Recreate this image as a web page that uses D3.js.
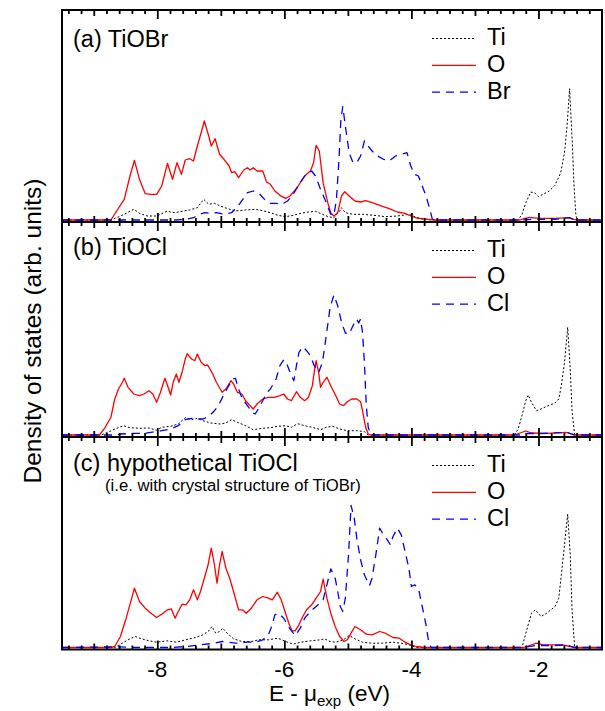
<!DOCTYPE html>
<html lang="en">
<head>
<meta charset="utf-8">
<title>Projected density of states</title>
<script src="https://d3js.org/d3.v7.min.js"></script>
<style>
  body { margin: 0; background: #fff; }
  text { font-family: "Liberation Sans", Arial, sans-serif; fill: #000; }
</style>
</head>
<body>
<div id="chart"></div>
<script>
// energy window (eV) and labelled ticks
var xMin = -9.5, xMax = -1.0;
var xTickLabels = [-8, -6, -4, -2];

var panelTitles = ["(a) TiOBr", "(b) TiOCl", "(c) hypothetical TiOCl"];
var panelNote = "(i.e. with crystal structure of TiOBr)";
var legendLabels = [["Ti", "O", "Br"], ["Ti", "O", "Cl"], ["Ti", "O", "Cl"]];

// [E (eV), DOS (arb. units)]
// (a) TiOBr
var tiA = [[-9.5,0],[-8.73,0],[-8.64,0.23],[-8.49,0.67],[-8.37,1.07],[-8.28,0.67],[-8.16,0.4],[-8.01,0.4],[-7.85,0.87],[-7.73,0.73],[-7.61,0.87],[-7.49,1.0],[-7.37,1.23],[-7.27,2.07],[-7.19,1.57],[-7.10,1.67],[-7.01,1.4],[-6.89,1.13],[-6.77,0.9],[-6.61,1.0],[-6.46,1.07],[-6.34,0.93],[-6.22,0.73],[-6.10,0.47],[-5.98,0.33],[-5.86,0.47],[-5.74,0.67],[-5.62,0.8],[-5.51,0.87],[-5.40,0.57],[-5.31,0.33],[-5.22,0.23],[-5.13,0.9],[-5.10,1.23],[-5.04,0.73],[-4.92,0.57],[-4.77,0.57],[-4.59,0.47],[-4.41,0.33],[-4.22,0.4],[-4.04,0.57],[-3.86,0.13],[-3.68,0],[-2.32,0],[-2.26,0.57],[-2.20,1.73],[-2.12,2.8],[-2.05,2.67],[-2.00,2.33],[-1.93,2.57],[-1.83,2.9],[-1.74,3.47],[-1.65,4.73],[-1.59,6.73],[-1.55,9.4],[-1.51,13.13],[-1.47,8.07],[-1.44,3.4],[-1.41,0.4],[-1.38,0],[-1.0,0]];
var oA = [[-9.5,0],[-8.73,0],[-8.64,0.9],[-8.52,2.07],[-8.43,4.4],[-8.36,5.97],[-8.28,4.07],[-8.19,2.63],[-8.10,2.57],[-8.01,2.57],[-7.93,3.4],[-7.84,5.67],[-7.76,4.07],[-7.69,5.73],[-7.62,4.57],[-7.56,6.0],[-7.49,6.13],[-7.43,5.9],[-7.37,7.4],[-7.31,8.73],[-7.26,9.9],[-7.19,8.4],[-7.15,7.4],[-7.09,8.13],[-7.02,6.57],[-6.95,6.07],[-6.87,5.4],[-6.83,4.73],[-6.78,4.83],[-6.72,4.23],[-6.64,5.0],[-6.58,5.23],[-6.54,5.0],[-6.49,5.23],[-6.43,4.9],[-6.34,4.9],[-6.28,3.8],[-6.22,3.57],[-6.15,2.9],[-6.07,2.47],[-5.98,2.17],[-5.91,2.4],[-5.80,3.23],[-5.68,4.4],[-5.59,4.9],[-5.54,5.73],[-5.50,7.47],[-5.45,6.9],[-5.39,3.73],[-5.31,1.57],[-5.27,0.73],[-5.22,0.4],[-5.16,0.73],[-5.10,2.4],[-5.05,2.83],[-4.98,2.4],[-4.89,1.9],[-4.80,1.8],[-4.72,1.93],[-4.62,1.73],[-4.50,1.47],[-4.35,1.13],[-4.22,0.8],[-4.10,0.67],[-4.01,0.4],[-3.92,0.2],[-3.74,0.07],[-3.62,0],[-2.29,0],[-2.23,0.13],[-2.14,0.27],[-1.99,0.17],[-1.74,0.17],[-1.53,0.23],[-1.44,0.07],[-1.38,0],[-1.0,0]];
var brA = [[-9.5,0],[-7.73,0],[-7.55,0.07],[-7.43,0.23],[-7.34,0.57],[-7.25,0.73],[-7.16,0.67],[-7.07,0.73],[-6.95,0.57],[-6.83,0.73],[-6.71,1.57],[-6.58,2.73],[-6.49,2.9],[-6.40,2.67],[-6.29,1.9],[-6.22,1.67],[-6.13,1.67],[-6.04,1.57],[-5.95,1.9],[-5.86,2.57],[-5.77,3.57],[-5.68,4.4],[-5.57,4.9],[-5.51,4.4],[-5.43,3.07],[-5.34,1.73],[-5.27,0.57],[-5.22,0.47],[-5.18,2.07],[-5.14,6.07],[-5.11,10.07],[-5.08,11.33],[-5.04,9.4],[-4.98,6.73],[-4.92,5.73],[-4.86,5.73],[-4.80,6.4],[-4.74,7.9],[-4.68,7.4],[-4.62,6.9],[-4.53,6.4],[-4.44,6.07],[-4.35,5.9],[-4.25,6.4],[-4.16,6.57],[-4.07,6.73],[-4.01,5.4],[-3.95,4.57],[-3.89,4.4],[-3.83,3.4],[-3.77,2.4],[-3.71,1.07],[-3.67,0.07],[-3.62,0],[-2.29,0],[-2.11,0.07],[-1.74,0.07],[-1.51,0.23],[-1.44,0],[-1.0,0]];

// (b) TiOCl
var tiB = [[-9.5,0],[-8.88,0],[-8.76,0.33],[-8.64,0.67],[-8.53,0.93],[-8.43,0.73],[-8.28,0.67],[-8.13,0.7],[-8.01,0.47],[-7.93,0.77],[-7.79,0.87],[-7.67,1.1],[-7.56,1.73],[-7.46,1.53],[-7.37,1.67],[-7.28,1.43],[-7.16,1.2],[-7.01,1.1],[-6.92,1.2],[-6.83,1.53],[-6.74,1.27],[-6.61,0.93],[-6.49,0.53],[-6.34,0.67],[-6.22,0.73],[-6.10,0.87],[-5.98,0.93],[-5.89,0.77],[-5.79,1.13],[-5.68,0.93],[-5.56,0.77],[-5.43,0.53],[-5.34,0.77],[-5.24,0.87],[-5.13,0.6],[-5.01,0.43],[-4.86,0.43],[-4.74,0.33],[-4.68,0],[-2.38,0],[-2.32,0.6],[-2.26,1.93],[-2.20,3.43],[-2.16,4.0],[-2.11,3.27],[-2.03,2.43],[-1.96,2.6],[-1.87,2.87],[-1.74,3.2],[-1.68,3.6],[-1.64,4.93],[-1.59,7.27],[-1.54,10.77],[-1.50,6.6],[-1.47,2.27],[-1.43,0],[-1.0,0]];
var oB = [[-9.5,0],[-8.91,0],[-8.82,0.77],[-8.73,1.77],[-8.67,3.6],[-8.61,4.6],[-8.55,5.27],[-8.52,5.67],[-8.46,4.77],[-8.37,4.1],[-8.28,3.93],[-8.21,4.1],[-8.13,4.43],[-8.07,4.1],[-8.01,3.27],[-7.95,4.27],[-7.88,5.67],[-7.82,4.6],[-7.79,4.0],[-7.75,5.27],[-7.70,6.1],[-7.66,5.27],[-7.61,6.27],[-7.56,7.6],[-7.53,8.13],[-7.46,7.6],[-7.41,7.43],[-7.37,8.1],[-7.31,7.27],[-7.25,6.93],[-7.21,7.0],[-7.14,6.27],[-7.07,5.27],[-6.98,4.27],[-6.92,4.6],[-6.84,5.43],[-6.80,5.1],[-6.74,4.27],[-6.67,4.1],[-6.61,3.43],[-6.55,3.0],[-6.49,2.6],[-6.43,3.1],[-6.34,3.6],[-6.25,3.77],[-6.16,3.77],[-6.07,3.93],[-6.01,4.1],[-5.95,3.6],[-5.89,3.43],[-5.81,4.33],[-5.75,3.77],[-5.68,3.43],[-5.62,3.77],[-5.56,4.93],[-5.53,6.27],[-5.50,7.43],[-5.46,6.27],[-5.43,4.77],[-5.39,5.27],[-5.33,5.77],[-5.27,4.93],[-5.19,3.93],[-5.13,3.1],[-5.07,2.93],[-5.01,3.33],[-4.94,3.6],[-4.86,3.6],[-4.80,3.33],[-4.77,2.43],[-4.72,0.77],[-4.68,0.1],[-4.64,0],[-2.38,0],[-2.29,0.2],[-2.20,0.4],[-2.11,0.2],[-1.87,0.17],[-1.56,0.27],[-1.47,0.1],[-1.41,0],[-1.0,0]];
var clB = [[-9.5,0],[-8.64,0],[-8.58,0.1],[-8.34,0.17],[-8.19,0.17],[-8.04,0.33],[-7.93,0.43],[-7.79,0.6],[-7.67,0.93],[-7.56,1.53],[-7.46,1.67],[-7.37,1.6],[-7.28,1.6],[-7.19,1.87],[-7.10,2.43],[-7.04,2.93],[-6.96,3.93],[-6.89,4.77],[-6.81,5.6],[-6.77,5.67],[-6.72,4.6],[-6.66,3.6],[-6.58,2.93],[-6.51,2.27],[-6.46,2.1],[-6.41,2.6],[-6.34,3.43],[-6.28,4.2],[-6.22,4.6],[-6.13,5.6],[-6.07,6.93],[-6.01,7.53],[-5.95,6.93],[-5.89,5.93],[-5.85,5.43],[-5.81,6.93],[-5.77,8.27],[-5.71,8.83],[-5.65,8.43],[-5.59,7.93],[-5.53,6.93],[-5.46,6.27],[-5.40,7.27],[-5.34,9.93],[-5.28,12.77],[-5.22,14.0],[-5.16,12.93],[-5.10,11.27],[-5.04,10.2],[-4.98,10.1],[-4.92,10.93],[-4.86,11.6],[-4.83,11.2],[-4.80,11.6],[-4.77,10.27],[-4.74,7.27],[-4.71,2.93],[-4.68,0.77],[-4.64,0],[-2.29,0],[-2.17,0.17],[-1.99,0.13],[-1.56,0.27],[-1.44,0],[-1.0,0]];

// (c) hypothetical TiOCl
var tiC = [[-9.5,0],[-8.67,0],[-8.55,0.43],[-8.46,0.77],[-8.35,1.1],[-8.25,0.87],[-8.13,0.67],[-8.01,0.53],[-7.85,0.67],[-7.70,0.53],[-7.55,0.77],[-7.40,1.0],[-7.28,1.27],[-7.19,1.67],[-7.14,2.1],[-7.08,1.43],[-7.02,1.6],[-6.97,1.93],[-6.90,1.43],[-6.80,0.87],[-6.67,0.6],[-6.52,0.6],[-6.40,0.77],[-6.25,0.77],[-6.10,0.93],[-5.98,0.6],[-5.86,0.33],[-5.74,0.53],[-5.59,0.67],[-5.43,0.77],[-5.37,0.87],[-5.28,0.6],[-5.19,0.53],[-5.07,0.77],[-4.98,1.2],[-4.89,0.87],[-4.77,0.53],[-4.62,0.43],[-4.47,0.43],[-4.29,0.53],[-4.16,0.43],[-4.04,0.27],[-3.92,0],[-2.26,0],[-2.22,0.93],[-2.17,2.1],[-2.11,3.43],[-2.05,3.77],[-1.96,3.1],[-1.87,3.43],[-1.74,4.1],[-1.68,4.93],[-1.64,7.27],[-1.59,10.27],[-1.54,13.33],[-1.50,9.27],[-1.47,3.6],[-1.43,0],[-1.0,0]];
var oC = [[-9.5,0],[-8.73,0],[-8.67,0.1],[-8.58,1.1],[-8.49,2.93],[-8.41,4.77],[-8.36,5.93],[-8.28,4.6],[-8.19,3.93],[-8.10,3.43],[-8.01,3.0],[-7.93,3.33],[-7.84,3.77],[-7.78,3.87],[-7.72,2.93],[-7.67,3.6],[-7.61,4.33],[-7.55,4.27],[-7.49,4.77],[-7.43,5.77],[-7.37,4.77],[-7.32,5.6],[-7.26,6.93],[-7.20,8.27],[-7.15,9.93],[-7.10,8.27],[-7.06,6.43],[-7.02,8.27],[-6.98,9.6],[-6.92,7.93],[-6.86,6.93],[-6.80,5.6],[-6.72,3.77],[-6.66,3.77],[-6.60,3.43],[-6.52,3.93],[-6.43,4.77],[-6.34,5.1],[-6.25,4.93],[-6.19,4.77],[-6.11,5.53],[-6.05,4.77],[-5.99,3.6],[-5.93,2.43],[-5.88,1.67],[-5.83,1.67],[-5.77,2.27],[-5.71,3.1],[-5.65,3.77],[-5.57,4.27],[-5.50,4.93],[-5.43,5.6],[-5.39,6.83],[-5.33,4.93],[-5.27,3.43],[-5.20,2.1],[-5.13,1.1],[-5.06,0.6],[-5.01,0.77],[-4.95,1.43],[-4.89,2.1],[-4.80,1.77],[-4.71,1.33],[-4.62,1.27],[-4.50,1.6],[-4.41,1.43],[-4.29,1.0],[-4.19,0.93],[-4.10,0.53],[-4.01,0.27],[-3.92,0.1],[-3.80,0],[-2.23,0],[-2.14,0.2],[-2.03,0.43],[-1.93,0.27],[-1.62,0.27],[-1.50,0.1],[-1.41,0],[-1.0,0]];
var clC = [[-9.5,0],[-8.61,0.07],[-8.34,0],[-7.79,0],[-7.55,0.1],[-7.31,0.27],[-7.10,0.43],[-6.98,0.6],[-6.77,0.43],[-6.58,0.53],[-6.46,0.53],[-6.34,0.77],[-6.25,1.27],[-6.19,2.27],[-6.15,3.27],[-6.09,3.43],[-6.01,2.93],[-5.92,1.93],[-5.83,1.2],[-5.75,1.93],[-5.68,2.93],[-5.59,3.6],[-5.50,4.1],[-5.39,4.77],[-5.33,6.27],[-5.27,7.87],[-5.20,6.93],[-5.16,5.6],[-5.12,4.1],[-5.08,3.6],[-5.04,4.93],[-4.99,9.27],[-4.95,14.2],[-4.90,12.93],[-4.86,10.93],[-4.80,8.77],[-4.74,7.27],[-4.66,6.2],[-4.62,6.93],[-4.56,9.27],[-4.50,11.93],[-4.44,11.27],[-4.38,10.77],[-4.33,10.27],[-4.29,11.1],[-4.22,11.93],[-4.16,11.27],[-4.10,9.6],[-4.04,7.93],[-4.00,6.1],[-3.95,6.27],[-3.89,5.93],[-3.83,4.1],[-3.77,2.27],[-3.73,0.6],[-3.69,0],[-2.23,0],[-2.05,0.2],[-1.74,0.2],[-1.56,0.27],[-1.44,0],[-1.0,0]];

var panelSeries = [[tiA, oA, brA], [tiB, oB, clB], [tiC, oC, clC]];

// styles: Ti dotted black, O solid red, halide dashed blue
var seriesStyle = [
    { color: "#000000", dash: "2,2", width: 1 },
    { color: "#ff0000", dash: null, width: 1.3 },
    { color: "#0000ff", dash: "8,6", width: 1.3 }
];

// layout
var W = 605, H = 711;
var left = 62, right = 602;
var bounds = [10, 222, 437, 649.5];          // top, dividers, bottom
var titleOffset = [37, 33, 34];

var svg = d3.select("#chart")
    .append("svg")
    .attr("width", W)
    .attr("height", H);

var x = d3.scaleLinear()
    .domain([xMin, xMax])
    .range([left, right]);

// minor ticks every 0.2, medium at odd integers, long at labelled ones
var allTicks = d3.range(-47, -4).map(function(i){ return +(i * 0.2).toFixed(1); });
var minorTicks = allTicks.filter(function(d){ return Math.abs(d - Math.round(d)) > 0.01; });
var oddTicks = [-9, -7, -5, -3];

var line = d3.line()
    .x(function(d){ return x(d[0]); });

panelSeries.forEach(function(series, p){
    var top = bounds[p], bottom = bounds[p + 1];
    var y = d3.scaleLinear()
        .domain([-0.2, (bottom - top) / 10 - 0.2])
        .range([bottom, top]);

    svg.append("clipPath")
        .attr("id", "clip" + p)
        .append("rect")
        .attr("x", left).attr("y", top)
        .attr("width", right - left).attr("height", bottom - top);

    var g = svg.append("g").attr("clip-path", "url(#clip" + p + ")");

    series.forEach(function(data, s){
        line.y(function(d){ return y(d[1]); });
        g.append("path")
            .datum(data)
            .attr("d", line)
            .attr("fill", "none")
            .attr("stroke", seriesStyle[s].color)
            .attr("stroke-width", seriesStyle[s].width)
            .attr("stroke-dasharray", seriesStyle[s].dash)
            .attr("stroke-linejoin", "round");
    });

    // panel title
    svg.append("text")
        .attr("x", 73)
        .attr("y", top + titleOffset[p])
        .style("font-size", "23.5px")
        .text(panelTitles[p]);

    if (p === 2) {
        svg.append("text")
            .attr("x", 105)
            .attr("y", top + 54)
            .style("font-size", "16.7px")
            .text(panelNote);
    }

    // legend
    legendLabels[p].forEach(function(label, s){
        var ly = top + 35 + s * 26.8;
        svg.append("line")
            .attr("x1", 432).attr("x2", 476)
            .attr("y1", ly - 6.5).attr("y2", ly - 6.5)
            .attr("stroke", seriesStyle[s].color)
            .attr("stroke-width", seriesStyle[s].width)
            .attr("stroke-dasharray", seriesStyle[s].dash);
        svg.append("text")
            .attr("x", 487)
            .attr("y", ly)
            .style("font-size", "23.5px")
            .text(label);
    });
});

// tick marks on every horizontal frame line, pointing into the panels
function tickRow(yPos, dir){
    [[minorTicks, 4], [oddTicks, 6], [xTickLabels, 9]].forEach(function(t){
        var axis = (dir > 0 ? d3.axisBottom(x) : d3.axisTop(x))
            .tickValues(t[0])
            .tickSizeInner(t[1])
            .tickSizeOuter(0)
            .tickFormat("");
        var a = svg.append("g")
            .attr("transform", "translate(0," + yPos + ")")
            .call(axis);
        a.select(".domain").remove();
        a.selectAll(".tick line")
            .attr("stroke", "#000")
            .attr("stroke-width", 1.8);
    });
}
tickRow(bounds[0], 1);
tickRow(bounds[1], -1);
tickRow(bounds[1], 1);
tickRow(bounds[2], -1);
tickRow(bounds[2], 1);
tickRow(bounds[3], -1);

// frame and dividers
svg.append("rect")
    .attr("x", left).attr("y", bounds[0])
    .attr("width", right - left).attr("height", bounds[3] - bounds[0])
    .attr("fill", "none")
    .attr("stroke", "#000")
    .attr("stroke-width", 2);

[bounds[1], bounds[2]].forEach(function(yy){
    svg.append("line")
        .attr("x1", left).attr("x2", right)
        .attr("y1", yy).attr("y2", yy)
        .attr("stroke", "#000")
        .attr("stroke-width", 2);
});

// x tick labels
svg.selectAll(".xlab")
    .data(xTickLabels)
    .enter()
    .append("text")
    .attr("class", "xlab")
    .attr("x", function(d){ return x(d); })
    .attr("y", 677)
    .attr("text-anchor", "middle")
    .style("font-size", "22.5px")
    .text(function(d){ return "-" + Math.abs(d); });

// axis titles
var xl = svg.append("text")
    .attr("x", 269)
    .attr("y", 701)
    .style("font-size", "22.5px");
xl.append("tspan").text("E - \u03bc");
xl.append("tspan").attr("dy", 5).style("font-size", "15px").text("exp");
xl.append("tspan").attr("dy", -5).text(" (eV)");

svg.append("text")
    .attr("transform", "rotate(-90)")
    .attr("x", -331)
    .attr("y", 41)
    .attr("text-anchor", "middle")
    .style("font-size", "24.5px")
    .text("Density of states (arb. units)");
</script>
</body>
</html>
